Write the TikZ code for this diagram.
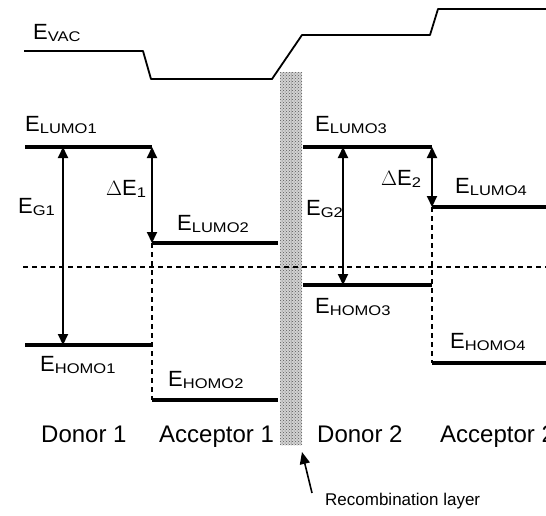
\documentclass[tikz,border=0pt]{standalone}
\usepackage{fontspec}
\setmainfont{Liberation Sans}
\usetikzlibrary{arrows.meta,patterns}

% subscript in a small, slightly widened face
\newcommand{\lvsub}[1]{\raisebox{-2.5pt}{\scalebox{1.18}[1]{\fontsize{14}{14}\selectfont #1}}}
\newcommand{\lvE}[1]{E\lvsub{#1}}

\tikzset{
  level/.style={line width=3.6pt},
  vac/.style={line width=1.8pt, line join=round},
  gap/.style={line width=2pt, {Triangle[width=10pt,length=11pt]}-{Triangle[width=10pt,length=11pt]}},
  guide/.style={line width=1.2pt, dash pattern=on 5pt off 4pt},
  lbl/.style={anchor=base west, inner sep=0pt, font=\fontsize{22}{26}\selectfont},
  matlbl/.style={anchor=base west, inner sep=0pt, font=\fontsize{24}{28}\selectfont},
  reclbl/.style={anchor=base west, inner sep=0pt, font=\fontsize{17}{20}\selectfont},
}

\begin{document}
\begin{tikzpicture}[x=1pt,y=-1pt]
\useasboundingbox (0,0) rectangle (546,515);
\clip (0,0) rectangle (546,515);

% vacuum level
\coordinate (v0) at (24,51);
\coordinate (v1) at (143,51);
\coordinate (v2) at (151,79);
\coordinate (v3) at (272,79);
\coordinate (v4) at (302,35);
\coordinate (v5) at (430,35);
\coordinate (v6) at (438,9);
\coordinate (v7) at (546,9);
\draw[vac] (v0) -- (v1) -- (v2) -- (v3) -- (v4) -- (v5) -- (v6) -- (v7);
\node[lbl] (evac) at (33,39) {\lvE{VAC}};

% recombination layer
\node[draw=none, fill=gray!35, minimum width=22pt, minimum height=373pt,
      inner sep=0pt, anchor=north west] (layer) at (280,72) {};
\fill[pattern=crosshatch dots, pattern color=gray!70!black] (layer.north west) rectangle (layer.south east);
\draw[gray!60, line width=0.6pt] ([xshift=11pt]layer.north west) -- ([xshift=11pt]layer.south west);

% reference dashed line
\coordinate (ref0) at (23,267);
\coordinate (ref1) at (546,267);
\draw[guide] (ref0) -- (ref1);

% level end points
\coordinate (lumo1a) at (25,147);  \coordinate (lumo1b) at (152,147);
\coordinate (homo1a) at (25,345);  \coordinate (homo1b) at (152,345);
\coordinate (lumo2a) at (152,243); \coordinate (lumo2b) at (278,243);
\coordinate (homo2a) at (152,400); \coordinate (homo2b) at (278,400);
\coordinate (lumo3a) at (303,147); \coordinate (lumo3b) at (432,147);
\coordinate (homo3a) at (303,285); \coordinate (homo3b) at (432,285);
\coordinate (lumo4a) at (432,207); \coordinate (lumo4b) at (546,207);
\coordinate (homo4a) at (432,363); \coordinate (homo4b) at (546,363);

% dashed steps between donor and acceptor
\draw[guide] (lumo2a) -- (homo2a);
\draw[guide] (lumo4a) -- (homo4a);

% energy levels
\draw[level] (lumo1a) -- (lumo1b);
\draw[level] (homo1a) -- (homo1b);
\draw[level] (lumo2a) -- (lumo2b);
\draw[level] (homo2a) -- (homo2b);
\draw[level] (lumo3a) -- (lumo3b);
\draw[level] (homo3a) -- (homo3b);
\draw[level] (lumo4a) -- (lumo4b);
\draw[level] (homo4a) -- (homo4b);

% gap and offset arrows
\coordinate (g1t) at (63,147);  \coordinate (g1b) at (63,345);
\coordinate (g2t) at (343,147); \coordinate (g2b) at (343,285);
\draw[gap] (g1t) -- (g1b);
\draw[gap] (lumo1b) -- (lumo2a);
\draw[gap] (g2t) -- (g2b);
\draw[gap] (lumo3b) -- (lumo4a);

% level labels
\node[lbl] (tlumo1) at (25,131)  {\lvE{LUMO1}};
\node[lbl] (tlumo3) at (315,131) {\lvE{LUMO3}};
\node[lbl] (tg1)    at (18,213)  {\lvE{G1}};
\node[lbl] (tde1)   at (106,195) {$\Delta$E\lvsub{1}};
\node[lbl] (tlumo2) at (177,230) {\lvE{LUMO2}};
\node[lbl] (tg2)    at (306,215) {\lvE{G2}};
\node[lbl] (tde2)   at (381,185) {$\Delta$E\lvsub{2}};
\node[lbl] (tlumo4) at (455,193) {\lvE{LUMO4}};
\node[lbl] (thomo1) at (40,371)  {\lvE{HOMO1}};
\node[lbl] (thomo2) at (168,386) {\lvE{HOMO2}};
\node[lbl] (thomo3) at (315,313) {\lvE{HOMO3}};
\node[lbl] (thomo4) at (450,348) {\lvE{HOMO4}};

% material names
\node[matlbl] (don1) at (41,442)  {Donor 1};
\node[matlbl] (acc1) at (159,442) {Acceptor 1};
\node[matlbl] (don2) at (317,442) {Donor 2};
\node[matlbl] (acc2) at (440,442) {Acceptor 2};

% pointer to the recombination layer
\node[reclbl] (rec) at (325,505) {Recombination layer};
\coordinate (rect) at (312,493);
\coordinate (rech) at (302,452);
\draw[line width=1.6pt, -{Triangle[width=10pt,length=12pt]}] (rect) -- (rech);
\end{tikzpicture}
\end{document}
